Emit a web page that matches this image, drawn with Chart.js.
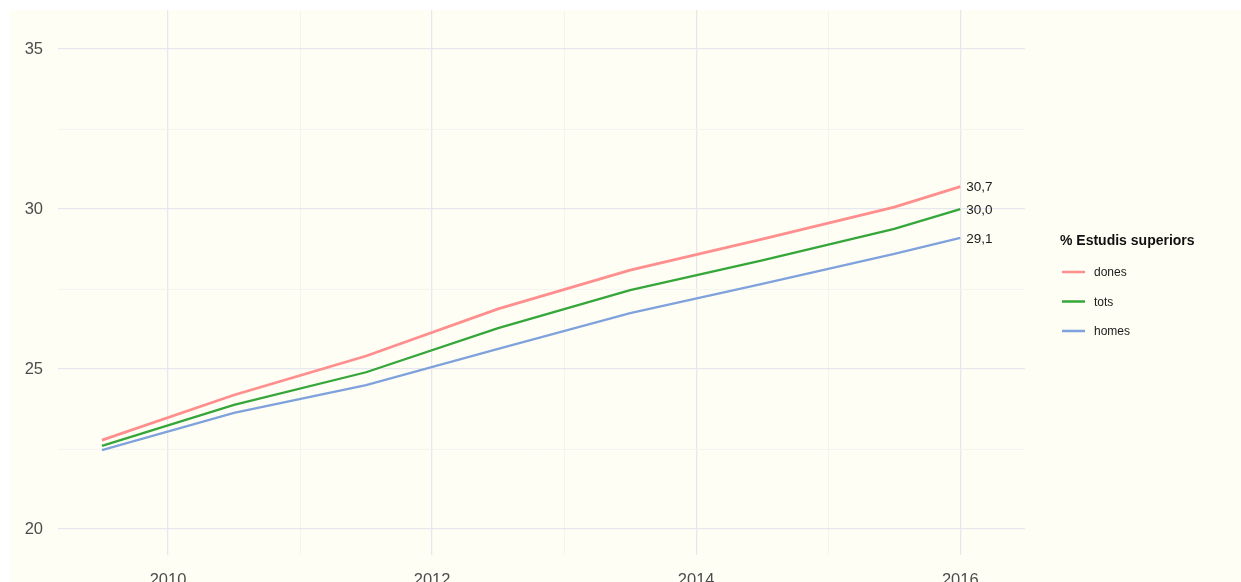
<!DOCTYPE html>
<html>
<head>
<meta charset="utf-8">
<script src="https://cdn.jsdelivr.net/npm/chart.js@4.4.1/dist/chart.umd.min.js"></script>
<style>
html,body{margin:0;padding:0;background:#ffffff;}
#wrap{position:relative;width:1241px;height:582px;}
canvas{display:block;}
</style>
</head>
<body>
<div id="wrap"><canvas id="c" width="1241" height="582"></canvas></div>
<script>
const years = [2009.5, 2010.5, 2011.5, 2012.5, 2013.5, 2014.5, 2015.5, 2016];
const dones = [22.78, 24.19, 25.41, 26.88, 28.09, 29.06, 30.06, 30.7];
const tots = [22.6, 23.88, 24.9, 26.28, 27.47, 28.4, 29.38, 30.0];
const homes = [22.47, 23.63, 24.5, 25.63, 26.75, 27.66, 28.6, 29.1];
const seriesNames = ['dones', 'tots', 'homes'];
const endLabels = ['30,7', '30,0', '29,1'];
const legendTitle = '% Estudis superiors';
const xTicks = [2010, 2011, 2012, 2013, 2014, 2015, 2016];
const xLabelTicks = [2010, 2012, 2014, 2016];
const yTicks = [20, 22.5, 25, 27.5, 30, 32.5, 35];
const yLabelTicks = [20, 25, 30, 35];

const colors = ['#FF8F8F', '#35A63A', '#7FA2DC'];
const seriesData = [dones, tots, homes];
const FONT = "'Liberation Sans', Arial, Helvetica, sans-serif";

const bgPlugin = {
  id: 'bg',
  beforeDraw(chart) {
    const ctx = chart.ctx;
    ctx.save();
    ctx.fillStyle = '#ffffff';
    ctx.fillRect(0, 0, chart.width, chart.height);
    ctx.fillStyle = '#FFFEF4';
    ctx.fillRect(10, 10, chart.width - 10, chart.height - 10);
    ctx.restore();
  }
};

const labelPlugin = {
  id: 'endlabels',
  afterDatasetsDraw(chart) {
    const ctx = chart.ctx;
    const xs = chart.scales.x, ys = chart.scales.y;
    ctx.save();
    ctx.font = '13.5px ' + FONT;
    ctx.fillStyle = '#1a1a1a';
    ctx.textAlign = 'left';
    ctx.textBaseline = 'middle';
    seriesData.forEach((d, i) => {
      const n = d.length - 1;
      const px = xs.getPixelForValue(years[n]);
      const py = ys.getPixelForValue(d[n]);
      ctx.fillText(endLabels[i], px + 6, py + 1);
    });
    // legend
    const lx = 1060;
    ctx.font = 'bold 14px ' + FONT;
    ctx.fillStyle = '#111111';
    ctx.fillText(legendTitle, lx, 241);
    ctx.font = '12px ' + FONT;
    seriesNames.forEach((name, i) => {
      const y = 272 + i * 29.5;
      ctx.strokeStyle = colors[i];
      ctx.lineWidth = 2.5;
      ctx.beginPath();
      ctx.moveTo(lx + 2, y);
      ctx.lineTo(lx + 25, y);
      ctx.stroke();
      ctx.fillStyle = '#1a1a1a';
      ctx.fillText(name, lx + 34, y + 1);
    });
    ctx.restore();
  }
};

const datasets = seriesNames.map((name, i) => ({
  label: name,
  data: years.map((x, j) => ({x: x, y: seriesData[i][j]})),
  borderColor: colors[i],
  backgroundColor: colors[i],
  borderWidth: i === 0 ? 2.7 : 2.3,
  pointRadius: 0,
  tension: 0,
  fill: false
}));

new Chart(document.getElementById('c'), {
  type: 'line',
  data: { datasets: datasets },
  plugins: [bgPlugin, labelPlugin],
  options: {
    responsive: false,
    animation: false,
    devicePixelRatio: 1,
    layout: { padding: { left: 0, top: 10, right: 216, bottom: 0 } },
    plugins: { legend: { display: false }, tooltip: { enabled: false } },
    scales: {
      x: {
        type: 'linear',
        min: 2009.167,
        max: 2016.49,
        border: { display: false },
        afterBuildTicks(scale) { scale.ticks = xTicks.map(v => ({value: v})); },
        afterFit(scale) { scale.height = 27; scale.paddingLeft = 0; scale.paddingRight = 0; },
        grid: {
          drawTicks: false,
          color: ctx => (ctx.tick && xLabelTicks.includes(ctx.tick.value)) ? '#E6E7EF' : '#F4F4F0',
          lineWidth: ctx => (ctx.tick && xLabelTicks.includes(ctx.tick.value)) ? 1.3 : 1
        },
        ticks: {
          padding: 16,
          autoSkip: false,
          maxRotation: 0,
          color: '#4D4D4D',
          font: { family: FONT, size: 16.5 },
          callback: v => xLabelTicks.includes(v) ? String(v) : ''
        }
      },
      y: {
        type: 'linear',
        min: 19.19,
        max: 36.22,
        border: { display: false },
        afterBuildTicks(scale) { scale.ticks = yTicks.map(v => ({value: v})); },
        afterFit(scale) { scale.width = 58; scale.paddingTop = 0; scale.paddingBottom = 0; },
        grid: {
          drawTicks: false,
          color: ctx => (ctx.tick && yLabelTicks.includes(ctx.tick.value)) ? '#E6E7EF' : '#F4F4F0',
          lineWidth: ctx => (ctx.tick && yLabelTicks.includes(ctx.tick.value)) ? 1.3 : 1
        },
        ticks: {
          padding: 15,
          color: '#4D4D4D',
          font: { family: FONT, size: 16.5 },
          callback: v => yLabelTicks.includes(v) ? String(v) : ''
        }
      }
    }
  }
});
</script>
</body>
</html>
